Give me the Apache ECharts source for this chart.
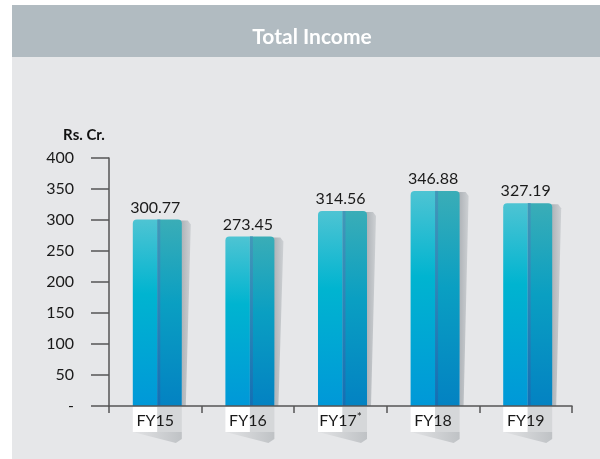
<!DOCTYPE html>
<html>
<head>
<meta charset="utf-8">
<script src="https://cdn.jsdelivr.net/npm/echarts@6/dist/echarts.min.js"></script>
<style>html,body{margin:0;padding:0;background:#fff;}#c{width:600px;height:459px;}</style>
</head>
<body>
<div id="c"></div>
<script>
const categories = ['FY15', 'FY16', 'FY17', 'FY18', 'FY19'];
const values = [300.77, 273.45, 314.56, 346.88, 327.19];
const yTicks = [0, 50, 100, 150, 200, 250, 300, 350, 400];
const titleText = 'Total Income';
const unitText = 'Rs. Cr.';

const FONT = 'Lato';
const chart = echarts.init(document.getElementById('c'), null, {renderer: 'canvas'});

function lg(x1, y1, x2, y2, stops) {
  return new echarts.graphic.LinearGradient(x1, y1, x2, y2, stops.map(s => ({offset: s[0], color: s[1]})));
}

function renderItem(params, api) {
  const i = api.value(0), v = api.value(1);
  const top = api.coord([i, v]);
  const base = api.coord([i, 0]);
  const bw = 49;
  const cx = top[0] + 2;
  const x0 = cx - bw / 2, x1 = cx + bw / 2;
  const ty = top[1], by = base[1];
  const h = by - ty;
  return {
    type: 'group',
    children: [
      {type: 'polygon', shape: {points: [[x1 - 2, ty + 1], [x1 + 6, ty + 1], [x1 + 9, ty + 5], [x1 + 4, by], [x1, by]]},
        style: {fill: lg(0, 0, 1, 0, [[0, '#a9aeb3'], [1, '#cdd0d3']])}},
      {type: 'rect', shape: {x: x0, y: ty, width: bw / 2, height: h, r: [4, 0, 0, 0]},
        style: {fill: lg(0, 0, 0, 1, [[0, '#4ec4d3'], [0.4, '#00b4d0'], [1, '#0098d8']])}},
      {type: 'rect', shape: {x: cx, y: ty, width: bw / 2, height: h, r: [0, 4, 0, 0]},
        style: {fill: lg(0, 0, 0, 1, [[0, '#3aadb7'], [0.45, '#0a9fc2'], [1, '#0382c2']])}},
      {type: 'rect', shape: {x: cx, y: ty, width: 3, height: h},
        style: {fill: lg(0, 0, 0, 1, [[0, '#4198b9'], [1, '#146fb4']])}},
      {type: 'rect', shape: {x: x0, y: by + 1, width: bw / 2, height: 25}, style: {fill: '#ffffff'}},
      {type: 'rect', shape: {x: cx, y: by + 1, width: bw / 2, height: 25}, style: {fill: '#d5d7d9'}},
      {type: 'polygon', shape: {points: [[x0, by + 26], [x1, by + 26], [x1, by + 33], [x1 - 6, by + 37]]},
        style: {fill: lg(0, 0, 1, 0, [[0, '#e2e3e5'], [1, '#bfc2c5']])}},
      {type: 'text', style: {text: values[i].toFixed(2), x: top[0], y: ty - 4, align: 'center', verticalAlign: 'bottom',
        fontFamily: FONT, fontSize: 16, fill: '#1a1a1a'}}
    ]
  };
}

chart.setOption({
  animation: false,
  backgroundColor: '#ffffff',
  graphic: [
    {type: 'rect', z: -10, shape: {x: 12, y: 5, width: 588, height: 454}, style: {fill: '#e6e7e9'}},
    {type: 'rect', z: -9, shape: {x: 12, y: 5, width: 588, height: 52}, style: {fill: '#b1bbc1'}},
    {type: 'text', z: 5, style: {text: unitText, x: 84, y: 135, align: 'center', verticalAlign: 'middle',
      fontFamily: FONT, fontWeight: 'bold', fontSize: 15, fill: '#111'}}
  ],
  title: {
    text: titleText, left: 307, top: 32, textAlign: 'center', textVerticalAlign: 'middle',
    textStyle: {color: '#ffffff', fontFamily: FONT, fontWeight: 'bold', fontSize: 21}
  },
  grid: {left: 109, right: 28, top: 158, bottom: 53},
  xAxis: {
    type: 'category', data: categories, z: 5,
    axisLine: {lineStyle: {color: '#555', width: 1.5}},
    axisTick: {show: true, length: 7, lineStyle: {color: '#555', width: 1.5}},
    axisLabel: {
      interval: 0, margin: 5, fontFamily: FONT, fontSize: 16, color: '#1a1a1a',
      formatter: v => v === 'FY17' ? '{a|' + v + '}{s|*}' : '{a|' + v + '}',
      rich: {
        a: {fontFamily: FONT, fontSize: 16, lineHeight: 20, color: '#1a1a1a', verticalAlign: 'middle'},
        s: {fontFamily: FONT, fontSize: 12, lineHeight: 10, color: '#1a1a1a', verticalAlign: 'top'}
      }
    }
  },
  yAxis: {
    type: 'value', min: 0, max: 400, interval: 50,
    splitLine: {show: false},
    axisLine: {show: true, lineStyle: {color: '#555', width: 1.5}},
    axisTick: {show: true, length: 18, lineStyle: {color: '#555', width: 1.5}},
    axisLabel: {margin: 35, fontFamily: FONT, fontSize: 16, color: '#1a1a1a',
      formatter: v => yTicks.indexOf(v) === 0 ? '-' : String(v)}
  },
  series: [{
    type: 'custom',
    renderItem: renderItem,
    data: values.map((v, i) => [i, v])
  }]
});
</script>
</body>
</html>
